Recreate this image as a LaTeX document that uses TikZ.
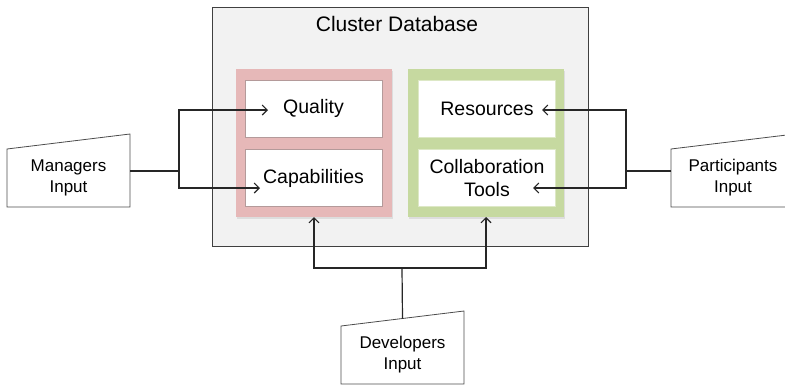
\documentclass[tikz,border=0pt]{standalone}
\usepackage{fontspec}
\setmainfont{Liberation Sans}
\usetikzlibrary{arrows.meta,shadows}

\definecolor{dbgray}{HTML}{F2F2F2}
\definecolor{qualred}{HTML}{E6B8B8}
\definecolor{toolgreen}{HTML}{C6D9A0}

\tikzset{
  conn/.style={line width=1.2pt, draw=black!85},
  tip/.style={-{Straight Barb[length=5pt,width=10pt,line width=1.1pt]}},
  panel/.style={minimum width=156pt, minimum height=148pt, outer sep=0pt, draw=none,
    drop shadow={opacity=0.18, shadow xshift=1pt, shadow yshift=-1.5pt}},
  item/.style={fill=white, minimum width=137pt, minimum height=57pt, outer sep=0pt,
    align=center, font=\fontsize{19.5}{23}\selectfont},
  inbox/.style={minimum width=123pt, minimum height=58pt, outer sep=0pt, align=center,
    font=\fontsize{17}{21}\selectfont}
}

\begin{document}
\begin{tikzpicture}[x=1pt, y=-1pt]
\useasboundingbox (0,0) rectangle (785,386);

% database frame and its two groups
\node[draw=black!75, line width=0.9pt, fill=dbgray, minimum width=376pt, minimum height=239pt, outer sep=0pt] (cluster) at (400,126.5) {};
\node[font=\fontsize{21}{25}\selectfont] (title) at (397,24) {Cluster Database};

\node[panel, fill=qualred] (redpanel) at (314,143) {};
\node[panel, fill=toolgreen] (greenpanel) at (486,143) {};

\node[item, draw=qualred!70!black!80, line width=0.5pt] (quality) at (313.5,108.5) {Quality};
\node[item, draw=qualred!70!black!80, line width=0.5pt] (capab) at (313.5,178) {Capabilities};
\node[item, draw=toolgreen!60, line width=0.5pt] (resources) at (487,108.5) {Resources};
\node[item, draw=toolgreen!60, line width=0.5pt] (collab) at (487,178) {Collaboration\\Tools};

% input sources
\node[inbox] (managers) at (68.5,178) {Managers\\Input};
\node[inbox, minimum width=124pt] (participants) at (733,178) {Participants\\Input};
\node[inbox] (developers) at (402.5,355) {Developers\\Input};

\foreach \n in {managers,participants,developers}
  \draw[line width=0.8pt, draw=black!70] (\n.north west) -- (\n.south west) -- (\n.south east)
    -- ([yshift=15pt]\n.north east) -- cycle;

% junctions and arrow ends
\coordinate (mjoin) at (179,171);
\coordinate (pjoin) at (626,171);
\coordinate (djoin) at (402,268);
\coordinate (qin) at (268,110);
\coordinate (cin) at (260,188);
\coordinate (rin) at (542,110);
\coordinate (tin) at (533,188);

\draw[conn] ([yshift=7pt]managers.east) -- (mjoin);
\draw[conn, tip] (mjoin) |- (qin);
\draw[conn, tip] (mjoin) |- (cin);

\draw[conn] ([yshift=7pt]participants.west) -- (pjoin);
\draw[conn, tip] (pjoin) |- (rin);
\draw[conn, tip] (pjoin) |- (tin);

\draw[conn] ([yshift=7.5pt]developers.north) -- (djoin);
\draw[conn, tip] (djoin) -| (redpanel.south);
\draw[conn, tip] (djoin) -| (greenpanel.south);
\end{tikzpicture}
\end{document}
